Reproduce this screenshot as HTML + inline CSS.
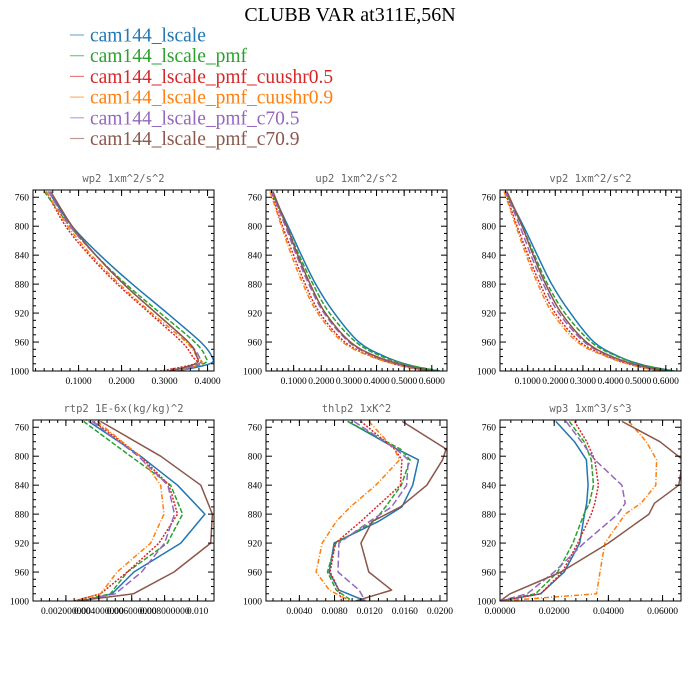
<!DOCTYPE html>
<html><head><meta charset="utf-8"><style>
body{margin:0;background:#fff;}
svg{display:block;}
</style></head><body>
<svg id="chart" width="700" height="700" viewBox="0 0 700 700" xmlns="http://www.w3.org/2000/svg">
<rect width="700" height="700" fill="#fff"/>
<text x="350" y="21" text-anchor="middle" font-family="Liberation Serif, serif" font-size="20" fill="#000">CLUBB VAR at311E,56N</text>
<g id="legend"></g>
<g id="panels"></g>
</svg>
<script>
const seriesNames = ["cam144_lscale","cam144_lscale_pmf","cam144_lscale_pmf_cuushr0.5","cam144_lscale_pmf_cuushr0.9","cam144_lscale_pmf_c70.5","cam144_lscale_pmf_c70.9"];
const seriesColors = ["#1f77b4","#2ca02c","#d62728","#ff7f0e","#9467bd","#8c564b"];
const seriesDash = ["", "5,2", "2,1.5", "5,2,1,2", "7,3", ""];

const wp2Levels = [752,800,840,880,920,960,980,990,1000];
const wp2Values = [
 [0.03,0.085,0.15,0.225,0.306,0.384,0.41,0.405,0.33],
 [0.02,0.08,0.14,0.21,0.29,0.37,0.395,0.39,0.31],
 [0.025,0.07,0.125,0.19,0.265,0.34,0.365,0.37,0.29],
 [0.025,0.075,0.13,0.195,0.27,0.35,0.375,0.385,0.33],
 [0.03,0.08,0.14,0.205,0.28,0.355,0.38,0.38,0.33],
 [0.035,0.085,0.14,0.205,0.28,0.355,0.375,0.372,0.31]];
const up2Levels = [752,800,840,880,920,960,980,992,1000];
const up2Values = [
 [0.02,0.08,0.128,0.18,0.247,0.336,0.43,0.52,0.62],
 [0.02,0.075,0.12,0.17,0.23,0.325,0.42,0.52,0.63],
 [0.018,0.06,0.1,0.142,0.195,0.285,0.385,0.48,0.58],
 [0.015,0.056,0.092,0.134,0.187,0.277,0.38,0.48,0.58],
 [0.02,0.07,0.11,0.155,0.21,0.3,0.395,0.49,0.59],
 [0.025,0.075,0.115,0.16,0.215,0.305,0.4,0.5,0.6]];
const vp2Levels = [752,800,840,880,920,960,980,992,1000];
const vp2Values = [
 [0.02,0.085,0.135,0.187,0.255,0.34,0.43,0.52,0.63],
 [0.02,0.08,0.125,0.172,0.235,0.33,0.425,0.52,0.63],
 [0.018,0.062,0.102,0.145,0.2,0.29,0.39,0.48,0.58],
 [0.015,0.058,0.095,0.137,0.19,0.28,0.385,0.48,0.58],
 [0.02,0.072,0.112,0.157,0.213,0.305,0.4,0.49,0.59],
 [0.025,0.08,0.12,0.165,0.222,0.312,0.405,0.5,0.6]];
const rtp2Levels = [752,800,840,880,920,960,990,1000];
const rtp2Values = [
 [0.00338,0.00654,0.00878,0.01045,0.00898,0.00613,0.0048,0.003],
 [0.00307,0.00593,0.00837,0.00909,0.00817,0.00573,0.0047,0.0028],
 [0.00369,0.00654,0.00827,0.00878,0.00766,0.00573,0.0041,0.0025],
 [0.0039,0.0065,0.00776,0.00796,0.00715,0.00511,0.0041,0.0025],
 [0.0036,0.0064,0.0082,0.0086,0.008,0.0066,0.005,0.0028],
 [0.0041,0.00776,0.0102,0.0109,0.0108,0.00857,0.0061,0.00267]];
const thlp2Levels = [752,790,805,840,870,890,920,960,985,1000];
const thlp2Values = [
 [0.0095,0.0151,0.01755,0.0169,0.01567,0.013,0.00795,0.00739,0.0085,0.01153],
 [0.0095,0.0155,0.0166,0.0156,0.0138,0.0125,0.00814,0.0072,0.0082,0.01],
 [0.011,0.0148,0.01567,0.0155,0.0128,0.011,0.0081,0.0075,0.0085,0.0088],
 [0.0119,0.0148,0.0154,0.0127,0.0098,0.0082,0.0066,0.0059,0.0074,0.0098],
 [0.0102,0.015,0.0164,0.0162,0.0145,0.012,0.0085,0.0084,0.0108,0.0115],
 [0.0157,0.0207,0.0203,0.0185,0.0155,0.0123,0.011,0.0119,0.0145,0.0104]];
const wp3Levels = [752,780,805,840,865,880,920,960,990,1000];
const wp3Values = [
 [0.0206,0.0275,0.0319,0.0325,0.032,0.0312,0.0294,0.0237,0.015,0],
 [0.0256,0.031,0.0337,0.0345,0.033,0.031,0.0269,0.0213,0.0131,0],
 [0.0275,0.032,0.035,0.0363,0.035,0.0337,0.0287,0.023,0.015,0],
 [0.0475,0.054,0.0578,0.0575,0.052,0.0462,0.0387,0.0369,0.0356,0],
 [0.0244,0.03,0.035,0.045,0.0462,0.0435,0.031,0.02,0.01,0],
 [0.045,0.059,0.0675,0.066,0.057,0.055,0.04,0.0225,0.0037,0]];

const wp2Ticks = [0.1,0.2,0.3,0.4], wp2TickLabels = ["0.1000","0.2000","0.3000","0.4000"];
const up2Ticks = [0.1,0.2,0.3,0.4,0.5,0.6], up2TickLabels = ["0.1000","0.2000","0.3000","0.4000","0.5000","0.6000"];
const rtp2Ticks = [0.002,0.004,0.006,0.008,0.01], rtp2TickLabels = ["0.002000000","0.004000000","0.006000000","0.008000000","0.010"];
const thlp2Ticks = [0.004,0.008,0.012,0.016,0.02], thlp2TickLabels = ["0.0040","0.0080","0.0120","0.0160","0.0200"];
const wp3Ticks = [0,0.02,0.04,0.06], wp3TickLabels = ["0.00000","0.02000","0.04000","0.06000"];
const pTicks = [760,800,840,880,920,960,1000];

const panels = [
 {name:"wp2",title:"wp2  1xm^2/s^2",x:33,y:190,lv:wp2Levels,vals:wp2Values,dom:[-0.006,0.415],ticks:wp2Ticks,labels:wp2TickLabels,minor:0.02,smooth:true},
 {name:"up2",title:"up2  1xm^2/s^2",x:266,y:190,lv:up2Levels,vals:up2Values,dom:[0,0.655],ticks:up2Ticks,labels:up2TickLabels,minor:0.02,smooth:true},
 {name:"vp2",title:"vp2  1xm^2/s^2",x:500,y:190,lv:vp2Levels,vals:vp2Values,dom:[0,0.655],ticks:up2Ticks,labels:up2TickLabels,minor:0.02,smooth:true},
 {name:"rtp2",title:"rtp2  1E-6x(kg/kg)^2",x:33,y:420,lv:rtp2Levels,vals:rtp2Values,dom:[0,0.011],ticks:rtp2Ticks,labels:rtp2TickLabels,minor:0.0005,smooth:false},
 {name:"thlp2",title:"thlp2  1xK^2",x:266,y:420,lv:thlp2Levels,vals:thlp2Values,dom:[0.0002,0.0208],ticks:thlp2Ticks,labels:thlp2TickLabels,minor:0.001,smooth:false},
 {name:"wp3",title:"wp3  1xm^3/s^3",x:500,y:420,lv:wp3Levels,vals:wp3Values,dom:[0,0.0668],ticks:wp3Ticks,labels:wp3TickLabels,minor:0.004,smooth:false}];

const NS="http://www.w3.org/2000/svg";
function mk(tag,attrs,parent){const e=document.createElementNS(NS,tag);for(const k in attrs)e.setAttribute(k,attrs[k]);parent.appendChild(e);return e;}
function pathD(pts,smooth){
 if(!smooth)return pts.map((p,k)=>(k?'L':'M')+p[0].toFixed(1)+','+p[1].toFixed(1)).join(' ');
 let d='M'+pts[0][0].toFixed(1)+','+pts[0][1].toFixed(1);
 for(let i=0;i<pts.length-1;i++){
  const p0=pts[Math.max(0,i-1)],p1=pts[i],p2=pts[i+1],p3=pts[Math.min(pts.length-1,i+2)];
  const c1=[p1[0]+(p2[0]-p0[0])/6,p1[1]+(p2[1]-p0[1])/6];
  const c2=[p2[0]-(p3[0]-p1[0])/6,p2[1]-(p3[1]-p1[1])/6];
  d+=' C'+c1[0].toFixed(1)+','+c1[1].toFixed(1)+' '+c2[0].toFixed(1)+','+c2[1].toFixed(1)+' '+p2[0].toFixed(1)+','+p2[1].toFixed(1);
 }
 return d;
}

const legend=document.getElementById('legend');
seriesNames.forEach((n,i)=>{
 const y=35+i*20.7;
 const ln=mk('line',{x1:70,x2:84,y1:y,y2:y,stroke:seriesColors[i],'stroke-width':1.2,opacity:0.6},legend);
 
 
 const t=mk('text',{x:90,y:y+6.5,'font-family':'Liberation Serif, serif','font-size':19.5,fill:seriesColors[i]},legend);
 t.textContent=n;
 
 
});

const W=181,H=181,P0=750,P1=1000;
const root=document.getElementById('panels');
panels.forEach((p,pi)=>{
 const g=mk('g',{},root);
 
 
 const xs=v=>p.x+(v-p.dom[0])/(p.dom[1]-p.dom[0])*W;
 const ys=v=>p.y+(v-P0)/(P1-P0)*H;
 const tt=mk('text',{x:p.x+W/2,y:p.y-8,'text-anchor':'middle','font-family':'DejaVu Sans Mono, monospace','font-size':10.5,fill:'#666'},g);
 tt.textContent=p.title;
 
 
 const cid='clip'+pi;
 const cp=mk('clipPath',{id:cid},g);
 mk('rect',{x:p.x,y:p.y,width:W,height:H},cp);
 const lines=mk('g',{'clip-path':'url(#'+cid+')'},g);
 p.vals.forEach((arr,si)=>{
  const pts=arr.map((v,k)=>[xs(v),ys(p.lv[k])]);
  const a={d:pathD(pts,p.smooth),fill:'none',stroke:seriesColors[si],'stroke-width':1.5,'stroke-linejoin':'round'};
  if(seriesDash[si])a['stroke-dasharray']=seriesDash[si];
  const path=mk('path',a,lines);
  
  
 });
 const tk=mk('g',{stroke:'#000','stroke-width':1},g);
 for(let v=P0;v<=P1;v+=10){
  const y=ys(v),L=(v%40===0)?6:3;
  mk('line',{x1:p.x,x2:p.x+L,y1:y,y2:y},tk);
  mk('line',{x1:p.x+W,x2:p.x+W-L,y1:y,y2:y},tk);
 }
 const mstart=Math.ceil(p.dom[0]/p.minor);
 for(let k=mstart;k*p.minor<=p.dom[1];k++){
  const x=xs(k*p.minor);
  mk('line',{x1:x,x2:x,y1:p.y,y2:p.y+3},tk);
  mk('line',{x1:x,x2:x,y1:p.y+H,y2:p.y+H-3},tk);
 }
 p.ticks.forEach((v,k)=>{
  const x=xs(v);
  mk('line',{x1:x,x2:x,y1:p.y,y2:p.y+6},tk);
  mk('line',{x1:x,x2:x,y1:p.y+H,y2:p.y+H-6},tk);
  const t=mk('text',{x:x,y:p.y+H+13,'text-anchor':'middle','font-family':'Liberation Serif, serif','font-size':9.5,fill:'#000'},g);
  t.textContent=p.labels[k];
  
  
 });
 pTicks.forEach(v=>{
  const t=mk('text',{x:p.x-4,y:ys(v)+3.5,'text-anchor':'end','font-family':'Liberation Serif, serif','font-size':9.5,fill:'#000'},g);
  t.textContent=v;
  
  
 });
 const fr=mk('rect',{x:p.x,y:p.y,width:W,height:H,fill:'none',stroke:'#000','stroke-width':1},g);
 
 
});
</script>
</body></html>
